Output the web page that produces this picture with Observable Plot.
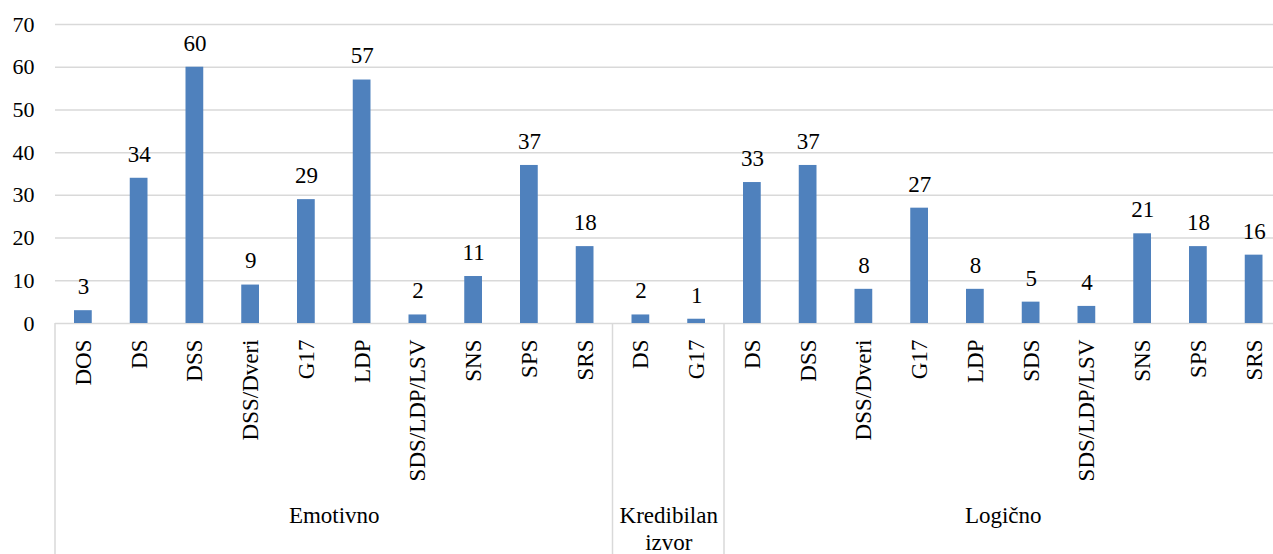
<!DOCTYPE html>
<html>
<head>
<meta charset="utf-8">
<script src="https://cdn.jsdelivr.net/npm/d3@7"></script>
<script src="https://cdn.jsdelivr.net/npm/@observablehq/plot@0.6"></script>
<style>
  html, body { margin: 0; padding: 0; background: #fff; font-family: "Liberation Serif", "Times New Roman", serif; }
  #chart svg text { font-family: "Liberation Serif", "Times New Roman", serif !important; }
  #fontprime { position: absolute; left: 0; top: 0; visibility: hidden; font-family: "Liberation Serif"; font-size: 23px; }
</style>
</head>
<body>
<span id="fontprime" aria-hidden="true">Emotivno 0123456789</span>
<div id="chart"></div>
<script>
const groupNames = ["Emotivno", "Kredibilan\nizvor", "Logično"];
const emotivnoParties = ["DOS", "DS", "DSS", "DSS/Dveri", "G17", "LDP", "SDS/LDP/LSV", "SNS", "SPS", "SRS"];
const emotivnoValues = [3, 34, 60, 9, 29, 57, 2, 11, 37, 18];
const kredibilanParties = ["DS", "G17"];
const kredibilanValues = [2, 1];
const logicnoParties = ["DS", "DSS", "DSS/Dveri", "G17", "LDP", "SDS", "SDS/LDP/LSV", "SNS", "SPS", "SRS"];
const logicnoValues = [33, 37, 8, 27, 8, 5, 4, 21, 18, 16];
const yTicks = [0, 10, 20, 30, 40, 50, 60, 70];

const groupParties = [emotivnoParties, kredibilanParties, logicnoParties];
const groupValues = [emotivnoValues, kredibilanValues, logicnoValues];

const rows = [];
const groups = [];
let idx = 0;
groupParties.forEach((parties, g) => {
  const start = idx;
  parties.forEach((p, k) => {
    rows.push({i: idx, party: p, value: groupValues[g][k]});
    idx++;
  });
  groups.push({name: groupNames[g], start: start, end: idx, mid: (start + idx) / 2});
});
const n = idx;
const boundaries = [0].concat(groups.map(g => g.end));
const tickPositions = rows.map(d => d.i + 0.5);

const gridColor = "#d9d9d9";
const SERIF = "Liberation Serif";

function separators(index, scales, values, dimensions) {
  const g = document.createElementNS("http://www.w3.org/2000/svg", "g");
  const yTop = dimensions.height - dimensions.marginBottom;
  boundaries.forEach(b => {
    const x = scales.x(b);
    const line = document.createElementNS("http://www.w3.org/2000/svg", "line");
    line.setAttribute("x1", x);
    line.setAttribute("x2", x);
    line.setAttribute("y1", yTop);
    line.setAttribute("y2", dimensions.height);
    line.setAttribute("stroke", gridColor);
    line.setAttribute("stroke-width", 1.5);
    g.appendChild(line);
  });
  return g;
}

function render() {
  const chart = Plot.plot({
    width: 1273,
    height: 554,
    marginLeft: 55,
    marginRight: 0,
    marginTop: 24,
    marginBottom: 231,
    style: {fontFamily: SERIF, fontSize: "23px", color: "black", background: "white"},
    x: {domain: [0, n], range: [55, 55 + n * 55.75], axis: null},
    y: {domain: [0, 70], axis: null},
    marks: [
      Plot.gridY(yTicks, {stroke: gridColor, strokeOpacity: 1, strokeWidth: 1.5}),
      Plot.rectY(rows, {x1: "i", x2: d => d.i + 1, y: "value", fill: "#4f81bd", insetLeft: 19, insetRight: 19}),
      Plot.text(rows, {x: d => d.i + 0.5, y: "value", text: d => String(d.value), dy: -24, fontFamily: SERIF, fontSize: 23}),
      Plot.axisY(yTicks, {tickSize: 0, tickPadding: 21, fontFamily: SERIF, fontSize: 22, label: null}),
      Plot.axisX(tickPositions, {
        tickFormat: v => rows[Math.floor(v)].party,
        tickRotate: -90,
        tickSize: 0,
        tickPadding: 16,
        fontFamily: SERIF,
        fontSize: 23,
        label: null
      }),
      Plot.text(groups, {x: "mid", frameAnchor: "bottom", text: "name", dy: 180, lineAnchor: "top", lineHeight: 1.17, fontFamily: SERIF, fontSize: 23}),
      separators
    ]
  });
  const holder = document.getElementById("chart");
  holder.innerHTML = "";
  holder.appendChild(chart);
}

render();
if (document.fonts && document.fonts.load) {
  Promise.all([
    document.fonts.load("23px 'Liberation Serif'"),
    document.fonts.load("22px 'Liberation Serif'")
  ]).then(render).catch(() => {});
  document.fonts.ready.then(render);
}
</script>
</body>
</html>
